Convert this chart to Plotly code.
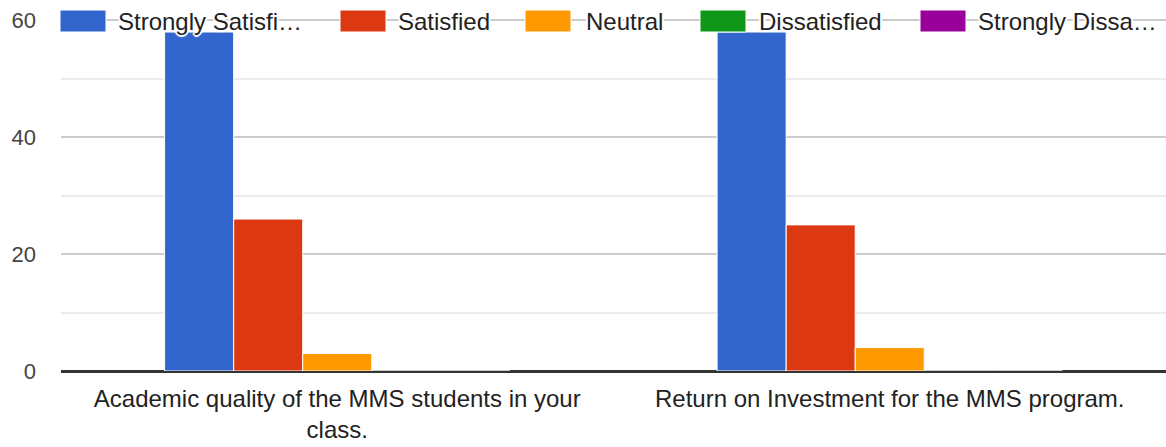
import plotly.graph_objects as go

categories = [
    "Academic quality of the MMS students in your<br>class.",
    "Return on Investment for the MMS program.",
]
series_names = ["Strongly Satisfied", "Satisfied", "Neutral", "Dissatisfied", "Strongly Dissatisfied"]
legend_labels = ["Strongly Satisfi…", "Satisfied", "Neutral", "Dissatisfied", "Strongly Dissa…"]
strongly_satisfied = [58, 58]
satisfied = [26, 25]
neutral = [3, 4]
dissatisfied = [0, 0]
strongly_dissatisfied = [0, 0]
colors = ["#3366cc", "#dc3912", "#ff9900", "#109618", "#990099"]
y_ticks = [0, 20, 40, 60]

values = [strongly_satisfied, satisfied, neutral, dissatisfied, strongly_dissatisfied]

W, H = 1166, 447
ML, MR, MT, MB = 61, 0, 18, 76
PW, PH = W - ML - MR, H - MT - MB

fig = go.Figure()
for name, vals, col in zip(series_names, values, colors):
    fig.add_trace(go.Bar(
        x=categories, y=vals, name=name,
        marker=dict(color=col, line=dict(color="white", width=1)),
        showlegend=False, hoverinfo="x+y+name",
    ))

def px_x(p):
    return (p - ML) / PW

def px_y(p):
    return 1 - (p - MT) / PH

FONT = "Arial, 'Liberation Sans', sans-serif"
swatch_x = [60, 340, 525, 700, 920]
text_x = [116, 396, 584, 757, 976]
halo = "2px 0 1px white, -2px 0 1px white, 0 2px 1px white, 0 -2px 1px white, 1px 1px 1px white, -1px -1px 1px white, 1px -1px 1px white, -1px 1px 1px white"
shapes = []
annotations = []
for lab, col, sx, tx in zip(legend_labels, colors, swatch_x, text_x):
    shapes.append(dict(type="rect", xref="paper", yref="paper",
                       x0=px_x(sx), x1=px_x(sx + 46), y0=px_y(32), y1=px_y(10),
                       fillcolor=col, line=dict(color="white", width=1), layer="above"))
    annotations.append(dict(text=lab, xref="paper", yref="paper", x=px_x(tx), y=px_y(21),
                            xanchor="left", yanchor="middle", showarrow=False,
                            font=dict(family=FONT, size=24, color="#222222", shadow=halo)))

fig.update_layout(
    width=W, height=H,
    margin=dict(l=ML, r=MR, t=MT, b=MB, autoexpand=False),
    paper_bgcolor="white", plot_bgcolor="white",
    barmode="group", bargap=0.375, bargroupgap=0,
    font=dict(family=FONT, size=24, color="#222222"),
    shapes=shapes, annotations=annotations,
    xaxis=dict(showgrid=False, showline=False, ticks="", ticklabelstandoff=11, automargin=False,
               tickfont=dict(family=FONT, size=24, color="#222222")),
    yaxis=dict(range=[0, 60.4], tickvals=y_ticks, showgrid=True, gridcolor="#cccccc", gridwidth=2,
               zeroline=True, zerolinecolor="#333333", zerolinewidth=3,
               ticks="", ticklabelstandoff=24, automargin=False,
               tickfont=dict(family=FONT, size=22, color="#444444"),
               minor=dict(tickvals=[10, 30, 50], showgrid=True, gridcolor="#ebebeb", gridwidth=2),
               showline=False),
)

fig.write_html("out.html", config={"displayModeBar": False},
               post_script="document.body.style.margin='0px';document.body.style.padding='0px';")
